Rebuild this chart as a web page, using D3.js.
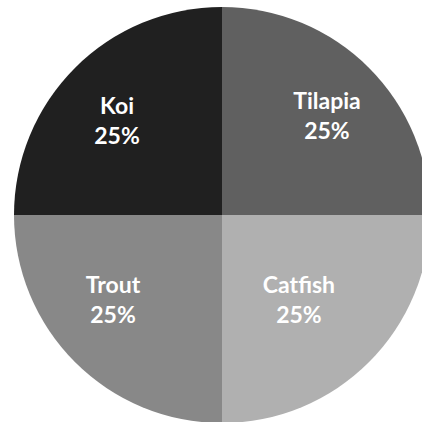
<!DOCTYPE html>
<html>
<head>
<meta charset="utf-8">
<script src="https://cdn.jsdelivr.net/npm/d3@7/dist/d3.min.js"></script>
<style>
  html, body { margin: 0; padding: 0; background: #ffffff; }
  svg { display: block; }
</style>
</head>
<body>
<script>
// Fish species share (clockwise from 12 o'clock)
const categories = ["Tilapia", "Catfish", "Trout", "Koi"];
const values = [25, 25, 25, 25];
const colors = ["#606060", "#b0b0b0", "#888888", "#202020"];

const W = 422, H = 422;
const cx = 222, cy = 215, R = 208;

// Label placement tweaks (px) relative to the slice centroid
const labelNudge = {
  Tilapia: [2, 3],
  Catfish: [-26, -19],
  Trout: [-6, -19],
  Koi: [-2, 8]
};

const svg = d3.select("body").append("svg")
  .attr("width", W).attr("height", H);

const data = categories.map((c, i) => ({ name: c, value: values[i], color: colors[i] }));
const total = d3.sum(values);

const pie = d3.pie().sort(null).value(d => d.value);
const arc = d3.arc().innerRadius(0).outerRadius(R);
const labelArc = d3.arc().innerRadius(R * 0.7).outerRadius(R * 0.7);

const g = svg.append("g").attr("transform", `translate(${cx},${cy})`);
const arcs = pie(data);

g.selectAll("path.slice")
  .data(arcs)
  .join("path")
  .attr("class", "slice")
  .attr("d", arc)
  .attr("fill", d => d.data.color);

const fmt = d3.format(".0%");
const labels = g.selectAll("text.label")
  .data(arcs)
  .join("text")
  .attr("class", "label")
  .attr("transform", d => {
    const [x, y] = labelArc.centroid(d);
    const [nx, ny] = labelNudge[d.data.name] || [0, 0];
    return `translate(${x + nx},${y + ny})`;
  })
  .attr("text-anchor", "middle")
  .attr("fill", "#ffffff")
  .style("font-family", "Lato, 'Open Sans', sans-serif")
  .style("font-weight", "bold")
  .style("font-size", "23px");

labels.append("tspan")
  .attr("x", 0).attr("dy", "-0.25em")
  .text(d => d.data.name);
labels.append("tspan")
  .attr("x", 0).attr("dy", "1.3em")
  .text(d => fmt(d.data.value / total));
</script>
</body>
</html>
